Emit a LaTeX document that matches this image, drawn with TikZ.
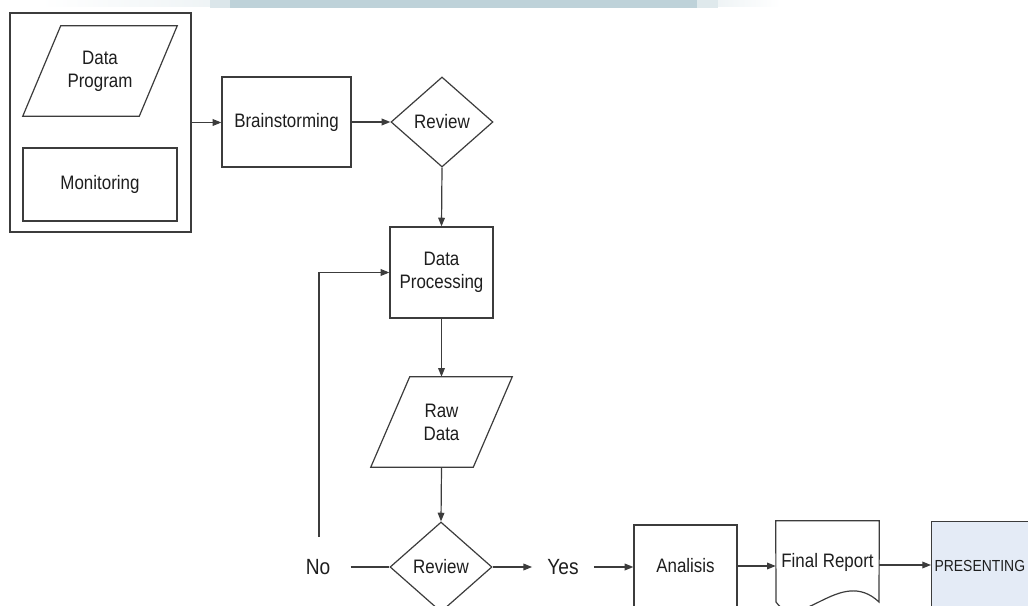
\documentclass[tikz,border=0pt]{standalone}
\usepackage{fontspec}
\setmainfont{Liberation Sans}[FakeStretch=0.87]
\usetikzlibrary{arrows.meta,shapes.geometric,calc}
\definecolor{lc}{HTML}{3C3C3C}
\definecolor{tc}{HTML}{1E1E1E}
\definecolor{bandc}{HTML}{BED2D9}
\definecolor{presfill}{HTML}{E4EBF6}
\tikzset{
  ln/.style={draw=lc, line width=0.9pt},
  arr/.style={ln, -{Triangle[length=6.5pt,width=5pt]}},
  base/.style={inner sep=0pt, text=tc, font=\fontsize{14.6}{17.25}\selectfont, align=center},
  boxnode/.style={base, rectangle, draw=lc, line width=0.9pt, fill=white},
  ghost/.style={base, rectangle, draw=none},
  decision/.style={base, diamond, draw=lc, line width=0.9pt, fill=white, minimum width=76.5pt, minimum height=67.5pt},
  bigtxt/.style={inner ysep=2pt, text=tc, font=\fontsize{16.5}{18}\selectfont},
}
\begin{document}
\begin{tikzpicture}[x=0.75pt,y=-0.75pt]
\useasboundingbox (0,0) rectangle (1028,606);
\clip (0,0) rectangle (1028,606);
% top band
\shade[left color=white, right color=bandc!25] (40,0) rectangle (210,7);
\fill[bandc!55] (210,0) rectangle (230,8);
\fill[bandc] (230,0) rectangle (697,8);
\fill[bandc!50] (697,0) rectangle (718,8);
\shade[left color=bandc!25, right color=white] (718,0) rectangle (780,7);

% group box
\node[boxnode, minimum width=135.75pt, minimum height=164.25pt] (group) at (100.5,122.5) {};
\node[ghost, minimum width=115.5pt, minimum height=67.5pt] (dprog) at (100,71) {Data\\Program};
\draw[ln] (dprog.south west) -- ($(dprog.north west)+(38,0)$) -- (dprog.north east) -- ($(dprog.south east)-(38,0)$) -- cycle;
\node[boxnode, minimum width=115.5pt, minimum height=54.75pt] (monitor) at (100,184.5) {Monitoring};

\node[boxnode, minimum width=96.75pt, minimum height=67.5pt] (brain) at (286.5,122) {Brainstorming};
\node[decision] (rev1) at (442,122) {Review};
\node[boxnode, minimum width=77.25pt, minimum height=68.25pt] (dp) at (441.5,272.5) {Data\\Processing};
\node[ghost, minimum width=105.75pt, minimum height=67.5pt] (raw) at (441.5,422) {Raw\\Data};
\draw[ln] (raw.south west) -- ($(raw.north west)+(39,0)$) -- (raw.north east) -- ($(raw.south east)-(39,0)$) -- cycle;
\node[decision] (rev2) at (441,567) {Review};
\node[bigtxt, inner xsep=15pt] (no) at (318,567) {No};
\node[bigtxt, inner xsep=11.25pt] (yes) at (563,567) {Yes};
\node[boxnode, minimum width=77.25pt, minimum height=61.5pt] (ana) at (685.5,566) {Analisis};
\node[ghost, minimum width=77.25pt, minimum height=66pt] (fr) at (827.5,565) {\raisebox{6.75pt}{Final Report}};
\draw[ln] (fr.north west) -- (fr.north east) -- (879,602) .. controls (840,565) and (800,635) .. (776,602) -- cycle;
\node[base, rectangle, draw=lc, line width=0.9pt, fill=presfill, anchor=north west, text width=78.75pt, inner xsep=2.25pt, minimum height=66pt, align=left, font=\fontsize{12}{13}\selectfont] (pres) at (931,521) {PRESENTING};

% connectors
\coordinate (loopstart) at (319,537);
\draw[arr] (group.east) -- (group.east -| brain.west);
\draw[arr] (brain.east) -- (rev1.west);
\draw[arr] (rev1.south) -- (dp.north);
\draw[arr] (dp.south) -- (raw.north);
\draw[arr] (raw.south) -- (rev2.north);
\draw[arr] (rev2.east) -- (yes.west);
\draw[arr] (yes.east) -- (yes.east -| ana.west);
\draw[ln] (no.east) -- (rev2.west);
\draw[arr] (loopstart) |- (dp.west);
\draw[arr] (ana.east) -- (ana.east -| fr.west);
\draw[arr] (fr.east) -- (fr.east -| pres.west);
\end{tikzpicture}
\end{document}
